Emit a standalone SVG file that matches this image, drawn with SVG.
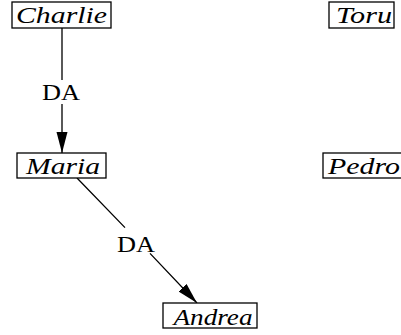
<svg xmlns="http://www.w3.org/2000/svg" width="401" height="335" viewBox="0 0 401 335">
  <style>
    .box { fill: #fff; stroke: #000; stroke-width: 1.3; }
    .edge { fill: none; stroke: #000; stroke-width: 1.3; }
    text { font-family: 'Liberation Serif', 'Times New Roman', serif; font-size: 24px; text-anchor: middle; fill: #000; }
    .name { font-style: italic; }
  </style>
  <defs>
    <marker id="arrow" markerUnits="userSpaceOnUse" markerWidth="22" markerHeight="12" refX="21" refY="5.5" orient="auto">
      <path d="M0,0 L21,5.5 L0,11 z" fill="#000"/>
    </marker>
  </defs>
  <rect width="401" height="335" fill="#fff"/>

  <g id="edges">
    <g id="edge-charlie-maria">
      <path class="edge" d="M62,28 L62,80 M62,104 L62,153" marker-end="url(#arrow)"/>
      <text x="61" y="100" textLength="38" lengthAdjust="spacingAndGlyphs">DA</text>
    </g>
    <g id="edge-maria-andrea">
      <path class="edge" d="M77,178 L125,227.6 M150,253.4 L197,303" marker-end="url(#arrow)"/>
      <text x="136" y="252" textLength="38" lengthAdjust="spacingAndGlyphs">DA</text>
    </g>
  </g>

  <g id="charlie">
    <rect class="box" x="12" y="2" width="99" height="26"/>
    <text class="name" x="61.5" y="23" textLength="91" lengthAdjust="spacingAndGlyphs">Charlie</text>
  </g>
  <g id="toru">
    <rect class="box" x="329" y="2" width="65" height="26"/>
    <text class="name" x="364" y="23" textLength="56" lengthAdjust="spacingAndGlyphs">Toru</text>
  </g>
  <g id="maria">
    <rect class="box" x="17" y="153" width="89" height="25"/>
    <text class="name" x="63" y="174" textLength="74" lengthAdjust="spacingAndGlyphs">Maria</text>
  </g>
  <g id="pedro">
    <rect class="box" x="323" y="153" width="80" height="25"/>
    <text class="name" x="364" y="174" textLength="72" lengthAdjust="spacingAndGlyphs">Pedro</text>
  </g>
  <g id="andrea">
    <rect class="box" x="163" y="303" width="94" height="25"/>
    <text class="name" x="213" y="324.5" textLength="79" lengthAdjust="spacingAndGlyphs">Andrea</text>
  </g>
</svg>
